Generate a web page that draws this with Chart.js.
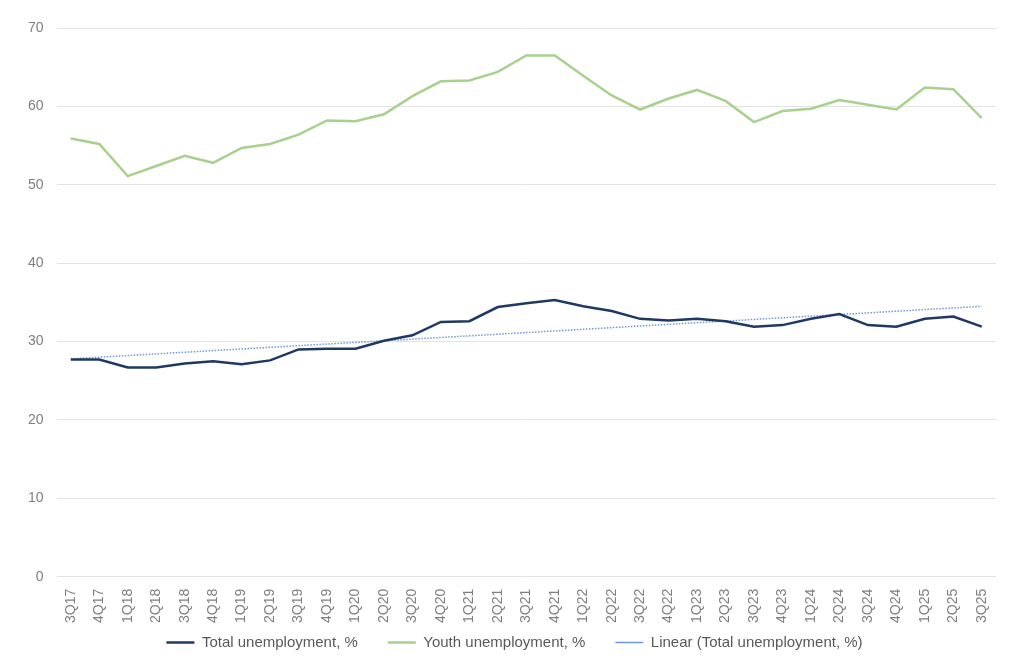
<!DOCTYPE html>
<html>
<head>
<meta charset="utf-8">
<script src="https://cdn.jsdelivr.net/npm/chart.js@4.4.0/dist/chart.umd.min.js"></script>
<style>
  html, body { margin: 0; padding: 0; background: #fff; }
  #wrap { width: 1024px; height: 667px; }
</style>
</head>
<body>
<div id="wrap"><canvas id="chart"></canvas></div>
<script>
// Quarters
const quarters = [
  "3Q17", "4Q17", "1Q18", "2Q18", "3Q18", "4Q18", "1Q19", "2Q19", "3Q19", "4Q19",
  "1Q20", "2Q20", "3Q20", "4Q20", "1Q21", "2Q21", "3Q21", "4Q21", "1Q22", "2Q22",
  "3Q22", "4Q22", "1Q23", "2Q23", "3Q23", "4Q23", "1Q24", "2Q24", "3Q24", "4Q24",
  "1Q25", "2Q25", "3Q25",
];

// Total unemployment, %
const totalUnemployment = [
  27.7, 27.7, 26.7, 26.7, 27.2, 27.5, 27.1, 27.6, 29.0, 29.1,
  29.1, 30.1, 30.8, 32.5, 32.6, 34.4, 34.9, 35.3, 34.5, 33.9,
  32.9, 32.7, 32.9, 32.6, 31.9, 32.1, 32.9, 33.5, 32.1, 31.9,
  32.9, 33.2, 31.9,
];

// Youth unemployment, %
const youthUnemployment = [
  55.9, 55.2, 51.1, 52.4, 53.7, 52.8, 54.7, 55.2, 56.4, 58.2,
  58.1, 59.0, 61.3, 63.2, 63.3, 64.4, 66.5, 66.5, 63.9, 61.4,
  59.6, 61.0, 62.1, 60.7, 58.0, 59.4, 59.7, 60.8, 60.2, 59.6,
  62.4, 62.2, 58.5,
];

// Linear trend of total unemployment, read at its two ends
const trendQuarters = ["3Q17", "3Q25"];
const trendValues = [27.8, 34.5];

const yTicks = [0, 10, 20, 30, 40, 50, 60, 70];

Chart.defaults.font.family = "'Liberation Sans', Arial, sans-serif";

// legend sits a bit closer to the rotated quarter labels than chart.js allows
const LEGEND_LIFT = 30;
const LEGEND_NUDGE = 9;
const legendLift = {
  id: "legendLift",
  afterLayout(chart) {
    chart.legend.top -= LEGEND_LIFT;
    chart.legend.bottom -= LEGEND_LIFT;
    chart.legend.left += LEGEND_NUDGE;
    chart.legend.right += LEGEND_NUDGE;
  },
};

new Chart(document.getElementById("chart"), {
  type: "line",
  data: {
    labels: quarters,
    datasets: [
      {
        label: "Total unemployment, %",
        data: totalUnemployment,
        borderColor: "#1f3864",
        backgroundColor: "#1f3864",
        borderWidth: 2.5,
        pointRadius: 0,
        tension: 0,
      },
      {
        label: "Youth unemployment, %",
        data: youthUnemployment,
        borderColor: "#a9d18e",
        backgroundColor: "#a9d18e",
        borderWidth: 2.5,
        pointRadius: 0,
        tension: 0,
      },
      {
        label: "Linear (Total unemployment, %)",
        data: trendQuarters.map((q, i) => ({ x: q, y: trendValues[i] })),
        borderColor: "#7096dc",
        backgroundColor: "#7096dc",
        borderWidth: 1.5,
        borderDash: [1.5, 1.5],
        pointRadius: 0,
        tension: 0,
      },
    ],
  },
  plugins: [legendLift],
  options: {
    responsive: true,
    maintainAspectRatio: false,
    animation: false,
    layout: { padding: { left: 15, right: 28, top: 28, bottom: -23 } },
    plugins: {
      legend: {
        position: "bottom",
        labels: {
          usePointStyle: true,
          pointStyle: "line",
          pointStyleWidth: 28,
          color: "#595959",
          font: { size: 15 },
          padding: 30,
        },
      },
      tooltip: { enabled: false },
    },
    scales: {
      x: {
        offset: true,
        grid: { display: false, drawTicks: false },
        border: { display: false },
        ticks: {
          autoSkip: false,
          minRotation: 90,
          maxRotation: 90,
          padding: 12,
          color: "#7f7f7f",
          font: { size: 14 },
        },
      },
      y: {
        min: 0,
        max: 70,
        afterBuildTicks: (axis) => {
          axis.ticks = yTicks.map((v) => ({ value: v }));
        },
        grid: { color: "#e3e3e3", lineWidth: 1, drawTicks: false },
        border: { display: false },
        ticks: {
          padding: 13,
          color: "#7f7f7f",
          font: { size: 14 },
        },
      },
    },
  },
});
</script>
</body>
</html>
